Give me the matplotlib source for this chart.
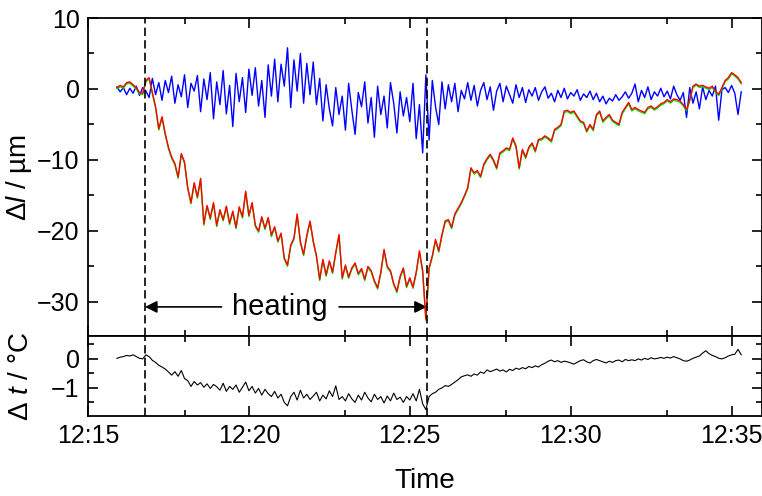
import matplotlib
matplotlib.use("Agg")
import matplotlib.pyplot as plt
import matplotlib.transforms as mtransforms
from matplotlib.ticker import FixedLocator, MultipleLocator, FuncFormatter
import numpy as np

plt.rcParams.update({
    "font.family": ["Liberation Sans", "DejaVu Sans"],
    "mathtext.fontset": "custom",
    "mathtext.rm": "Liberation Sans",
    "mathtext.it": "Liberation Sans:italic",
    "font.size": 18,
    "axes.linewidth": 1.3,
})

# time axis: minutes after 12:00, one sample every 0.1 min from 12:15.9 to 12:35.3
T_START, T_STEP, N = 15.9, 0.1, 195
t = np.round(T_START + T_STEP * np.arange(N), 2)

# Δl (µm) -- red and green traces (nearly identical)
dl_red = [
    0.2, 0.5, 0.3, 0.9, 1.0, 0.6, 0.2, -0.5, -0.6, 1.2,
    1.6, -0.5, -2.5, -5.6, -3.9, -6.3, -8.2, -9.6, -10.5, -12.4,
    -9.1, -10.3, -13.9, -16.0, -13.2, -15.2, -12.6, -19.0, -16.4, -18.2,
    -16.0, -19.2, -17.0, -18.4, -16.5, -18.9, -17.2, -19.5, -16.6, -18.0,
    -14.4, -17.8, -16.0, -19.2, -20.0, -18.0, -19.6, -18.1, -20.6, -19.4,
    -21.4, -20.3, -23.8, -24.8, -22.0, -21.0, -17.6, -21.5, -23.3, -20.6,
    -18.6, -21.4, -23.5, -26.8, -24.0, -26.2, -24.2, -25.8, -23.0, -20.5,
    -26.6, -24.8, -26.5, -25.2, -24.5, -26.0, -25.3, -26.8, -25.0, -25.6,
    -27.0, -28.0, -25.8, -22.6, -25.0, -25.6, -27.4, -28.5, -26.4, -25.2,
    -27.8, -26.6, -27.9, -25.8, -22.8, -25.6, -32.4, -25.2, -23.5, -21.2,
    -22.8, -20.5, -18.6, -18.4, -19.5, -17.6, -16.8, -16.0, -15.0, -13.9,
    -11.1, -11.8, -11.5, -12.3, -10.6, -9.8, -9.2, -10.0, -11.1, -9.0,
    -8.7, -8.3, -8.5, -6.9, -8.0, -11.1, -8.5, -9.6, -8.2, -7.6,
    -8.7, -7.1, -7.0, -6.6, -6.9, -7.3, -5.7, -5.4, -5.0, -3.1,
    -3.0, -3.3, -3.1, -3.8, -4.5, -4.7, -5.9, -5.0, -5.7, -3.6,
    -3.1, -4.5, -4.0, -3.6, -4.4, -4.7, -5.0, -3.3, -2.6, -1.9,
    -2.9, -2.6, -2.9, -3.1, -3.3, -2.6, -2.4, -2.8, -2.5, -2.1,
    -1.9, -1.5, -1.8, -1.4, -1.5, -1.7, -2.2, -2.9, -1.5, 0.4,
    0.7, 0.4, 0.5, 0.3, 0.1, 0.4, -0.3, -0.75, 0.2, 1.2,
    1.6, 2.3, 2.0, 1.6, 0.9,
]

# Δl (µm) -- blue trace
dl_blue = [
    0.3, -0.4, 0.2, -0.8, 0.1, -0.6, 0.4, -0.9, 0.2, -0.3,
    -1.2, 1.5, -0.8, 0.9, -1.6, 1.2, -0.5, 1.8, -2.0, 0.6,
    -1.1, 2.0, -2.6, 0.8, -0.3, 1.9, -3.2, 1.4, -1.5, 2.3,
    -4.2, 1.0, -2.2, 2.6, -3.5, 0.5, -5.3, 2.2, -1.8, 1.6,
    -3.3, 2.8, -0.9, 3.0, -2.4, 1.2, -4.0, 3.4, -1.0, 4.2,
    -1.8, 3.5, 0.4, 5.8, -2.6, 4.1, -0.3, 5.0, -2.0, 3.6,
    -0.8, 3.8, -2.2, 1.5, -4.5, 0.6, -2.8, -5.2, 0.2, -3.6,
    -1.0, -5.8, 0.8, -3.0, -6.4, -0.5, -2.5, 1.0, -4.8, -1.2,
    -6.8, 0.4, -3.6, -1.0, -5.5, 0.9, -2.0, -6.2, -0.4, -3.8,
    -1.2, -4.6, 0.8, -7.0, -2.2, -9.0, 2.0, -7.2, 1.2, -2.5,
    -5.0, 1.0, -2.8, 0.6, -1.8, 0.8, -3.2, -0.2, -1.4, 0.9,
    -1.6, 0.5, -2.4, -0.2, 0.9, -1.5, 0.3, -3.0, -0.3, 0.8,
    -1.8, 0.4, -0.8, -2.0, 0.6, -1.2, 0.2, -1.9, -0.1, -1.0,
    0.2, -1.6, -0.4, 0.3, -1.3, -0.6, -1.8, -0.2, -1.2, 0.1,
    -1.4, -0.5, -1.0, -0.1, -1.6, -0.7, -1.2, -0.3, -1.5, -0.6,
    -1.8, -1.0, -2.1, -1.3, -1.7, -0.8, -1.6, -1.1, -0.4, -1.3,
    -0.6, 0.7, -1.8, -0.2, -1.2, 0.3, -1.5, -0.4, -1.0, 0.1,
    -1.1, -0.3, -1.4, 0.4, -0.8, -1.6, -0.5, -4.0, 0.2, -2.0,
    -0.4, -2.8, 0.3, -1.5, -0.2, -1.0, 0.4, -4.4, -0.1, 0.2,
    -0.5, 0.5, -0.6, -3.6, -0.4,
]

# Δt (°C) -- black trace
dtemp = [
    0.02, 0.06, 0.08, 0.12, 0.10, 0.14, 0.08, 0.02, 0.0, 0.14,
    0.08, -0.05, -0.12, -0.22, -0.28, -0.35, -0.45, -0.56, -0.44, -0.60,
    -0.40, -0.68, -0.75, -0.95, -0.78, -0.90, -0.82, -0.98, -0.86, -1.02,
    -0.88, -0.96, -1.08, -0.84, -1.12, -0.95, -1.05, -0.90, -1.15, -0.98,
    -0.80, -1.10, -0.95, -1.18, -1.02, -1.25, -1.05, -1.20, -1.30, -1.12,
    -1.35, -1.22, -1.50, -1.62, -1.30, -1.15, -1.42, -1.08, -1.35, -1.22,
    -1.40, -1.28, -1.15, -1.45, -1.25, -1.38, -1.10, -1.30, -0.93, -1.40,
    -1.30, -1.45, -1.20, -1.38, -1.50, -1.25, -1.42, -1.15, -1.35, -1.48,
    -1.22, -1.40, -1.30, -1.52, -1.28, -1.45, -1.18, -1.40, -1.32, -1.50,
    -1.30, -1.42, -1.20, -1.45, -1.05, -1.55, -1.75, -1.30, -1.20, -1.15,
    -1.05, -1.00, -0.92, -0.95, -0.88, -0.80, -0.72, -0.62, -0.58, -0.55,
    -0.60, -0.52, -0.56, -0.45, -0.50, -0.38, -0.44, -0.40, -0.35, -0.42,
    -0.38, -0.45, -0.36, -0.40, -0.32, -0.36, -0.30, -0.34, -0.26, -0.30,
    -0.24, -0.28, -0.20, -0.15, -0.08, -0.04, -0.10, -0.06, -0.12, -0.08,
    -0.10, -0.14, -0.18, -0.12, -0.06, -0.03, -0.10, -0.14, -0.06, -0.02,
    -0.06, -0.10, -0.14, -0.08, -0.12, -0.06, -0.04, -0.10, -0.02, -0.06,
    -0.03, -0.06, 0.0, -0.04, 0.02, -0.02, 0.04, 0.0, 0.02, 0.05,
    0.02, 0.06, 0.03, 0.08, 0.04, 0.0, -0.06, -0.08, -0.04, 0.02,
    0.06, 0.10, 0.20, 0.28, 0.18, 0.12, 0.08, 0.02, 0.00, 0.04,
    0.10, 0.14, 0.16, 0.33, 0.14,
]

heat_on, heat_off = 16.77, 25.53   # heating interval (dashed lines)
major_t = [15, 20, 25, 30, 35]
minor_t = [18, 23, 28, 33]

W, H = 762, 496
fig = plt.figure(figsize=(W / 100, H / 100), dpi=100)
L, R = 88 / W, 761.5 / W
ax1 = fig.add_axes([L, 1 - 336 / H, R - L, (336 - 18) / H])
ax2 = fig.add_axes([L, 1 - 416 / H, R - L, (416 - 336) / H], sharex=ax1)

ax1.plot(t, dl_blue, color="#0000ff", lw=1.0, zorder=2)
shift = mtransforms.offset_copy(ax1.transData, fig=fig, x=0, y=-1.3, units="dots")
ax1.plot(t, dl_red, color="#00e000", lw=1.0, transform=shift, zorder=3)
ax1.plot(t, dl_red, color="#ff0000", lw=1.0, zorder=4)
ax2.plot(t, dtemp, color="black", lw=0.8)

for ax in (ax1, ax2):
    for xv in (heat_on, heat_off):
        ax.axvline(xv, color="black", lw=1.2, ls=(0, (5, 2.5)), zorder=5)
    ax.tick_params(which="both", direction="in", top=True, right=True, width=1.2)
    ax.tick_params(which="major", length=7, labelsize=18, pad=6)
    ax.tick_params(which="minor", length=4)

ax1.set_xlim(15, 35.93)
ax1.xaxis.set_major_locator(FixedLocator(major_t))
ax1.xaxis.set_minor_locator(FixedLocator(minor_t))
ax1.tick_params(labelbottom=False)
ax2.xaxis.set_major_formatter(FuncFormatter(lambda v, p: f"12:{int(round(v)):02d}"))

ax1.set_ylim(-34.8, 10)
ax1.yaxis.set_major_locator(MultipleLocator(10))
ax1.yaxis.set_minor_locator(MultipleLocator(5))
ax2.set_ylim(-1.97, 0.79)
ax2.yaxis.set_major_locator(MultipleLocator(1))
ax2.yaxis.set_minor_locator(MultipleLocator(0.5))

ax1.set_ylabel(r"$\Delta\mathit{l}$ / µm", fontsize=20)
ax2.set_ylabel(r"$\Delta\ \mathit{t}$ / °C", fontsize=20)
ax2.set_xlabel("Time", fontsize=20, labelpad=14)
ax1.yaxis.set_label_coords(-0.08, 0.5)
ax2.yaxis.set_label_coords(-0.08, 0.5)

# heating arrow
y_arr = -30.7
ax1.annotate("", xy=(heat_on, y_arr), xytext=(19.15, y_arr),
             arrowprops=dict(arrowstyle="-|>", color="black", lw=1.2,
                             mutation_scale=18, shrinkA=0, shrinkB=0))
ax1.annotate("", xy=(heat_off, y_arr), xytext=(22.8, y_arr),
             arrowprops=dict(arrowstyle="-|>", color="black", lw=1.2,
                             mutation_scale=18, shrinkA=0, shrinkB=0))
ax1.text(20.95, y_arr, "heating", ha="center", va="center", fontsize=21)

fig.savefig("out.png", dpi=100)
